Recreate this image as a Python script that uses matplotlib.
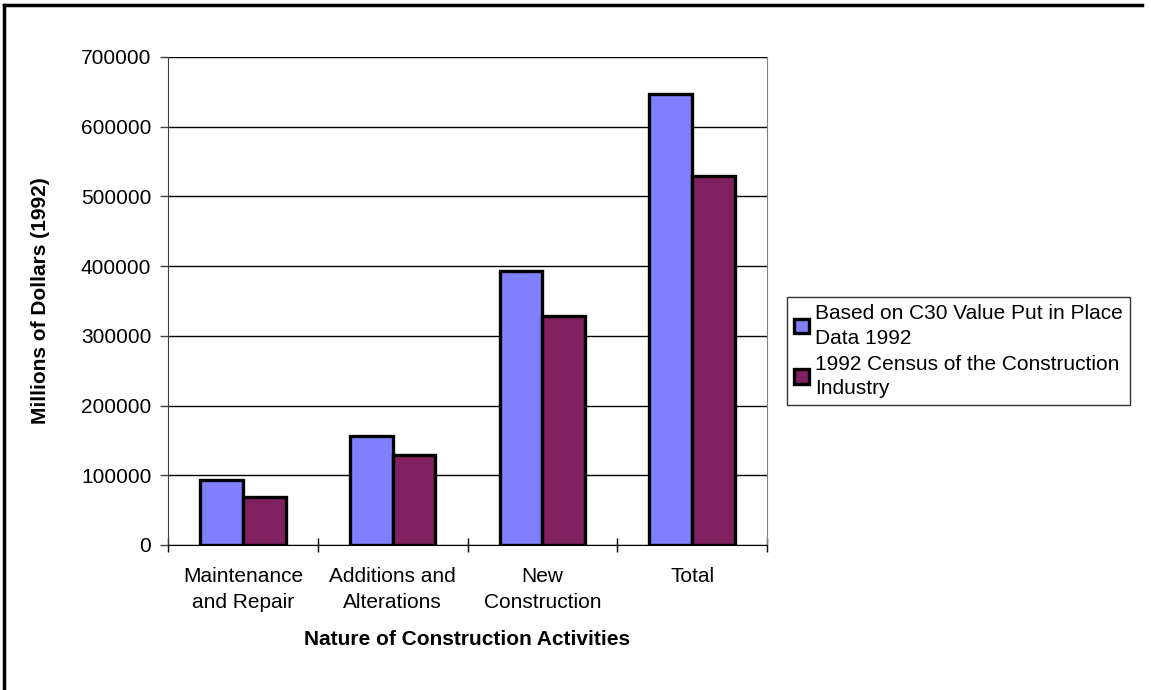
import numpy as np
import matplotlib
matplotlib.use("Agg")
import matplotlib.pyplot as plt
from matplotlib.lines import Line2D

# chart data
categories = ["Maintenance\nand Repair", "Additions and\nAlterations", "New\nConstruction", "Total"]
c30_values = [93400, 157000, 393700, 646600]
census_values = [69400, 129700, 329000, 528700]
series_names = ["Based on C30 Value Put in Place\nData 1992",
                "1992 Census of the Construction\nIndustry"]
y_ticks = [0, 100000, 200000, 300000, 400000, 500000, 600000, 700000]

plt.rcParams['font.family'] = ['Liberation Sans', 'DejaVu Sans']

fig = plt.figure(figsize=(11.51, 6.90), dpi=100)
ax = fig.add_axes([168 / 1151, 145 / 690, 599 / 1151, 488 / 690])

x = np.arange(len(categories))
w = 0.2857
ax.bar(x - w / 2, c30_values, w, color="#8080FF", edgecolor="black", linewidth=2.4,
       label=series_names[0], zorder=3)
ax.bar(x + w / 2, census_values, w, color="#802060", edgecolor="black", linewidth=2.4,
       label=series_names[1], zorder=3)

ax.set_xlim(-0.5, len(categories) - 0.5)
ax.set_ylim(0, 700000)
ax.set_yticks(y_ticks)
ax.set_yticklabels([str(v) for v in y_ticks], fontsize=15)
ax.yaxis.grid(True, color="black", linewidth=1, zorder=0)

# category labels between boundary ticks
ax.set_xticks(x)
ax.set_xticklabels(categories, fontsize=15, linespacing=1.45)
ax.tick_params(axis="x", length=0, pad=16)
ax.set_xticks(np.arange(-0.5, len(categories)), minor=True)
ax.tick_params(axis="x", which="minor", length=10, direction="inout", width=1)
ax.tick_params(axis="y", length=6, width=1, color="#404040", pad=6)

ax.spines["top"].set_visible(False)
ax.spines["right"].set_color("#808080")
ax.spines["left"].set_color("#404040")
ax.spines["bottom"].set_color("black")

ax.set_ylabel("Millions of Dollars (1992)", fontsize=15, fontweight="bold", labelpad=22)
ax.set_xlabel("Nature of Construction Activities", fontsize=15, fontweight="bold", labelpad=13)

leg = ax.legend(loc="upper left", bbox_to_anchor=(787 / 1151, 1 - 297 / 690),
                bbox_transform=fig.transFigure, fontsize=15, frameon=True, fancybox=False,
                handlelength=0.7, handleheight=0.7, handletextpad=0.3, borderaxespad=0,
                borderpad=0.35, labelspacing=0.35)
for t in leg.get_texts():
    t.set_linespacing(1.35)
leg.get_frame().set_edgecolor("black")
leg.get_frame().set_linewidth(1)

# outer chart border (top and left edges visible)
fig.add_artist(Line2D([4 / 1151, 1142 / 1151], [1 - 5 / 690, 1 - 5 / 690],
                      transform=fig.transFigure, color="black", linewidth=2.5))
fig.add_artist(Line2D([4 / 1151, 4 / 1151], [1 - 5 / 690, 0],
                      transform=fig.transFigure, color="black", linewidth=2.5))

fig.savefig("out.png", dpi=100)
